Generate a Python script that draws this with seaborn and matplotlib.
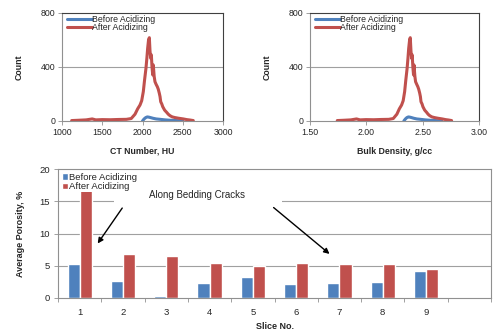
import numpy as np
import pandas as pd
import matplotlib
matplotlib.use("Agg")
import matplotlib.pyplot as plt
from matplotlib.patches import Rectangle
import seaborn as sns

# CT number histogram
ct_red = [1120, 1200, 1300, 1375, 1420, 1500, 1600, 1700, 1800, 1860, 1907, 1940,
          1969, 1990, 2010, 2025, 2043, 2055, 2064, 2075, 2085, 2093, 2102, 2110,
          2118, 2127, 2134, 2145, 2155, 2170, 2184, 2196, 2209, 2218, 2226, 2240,
          2251, 2275, 2300, 2320, 2342, 2370, 2404, 2450, 2507, 2550, 2590, 2631]
dens_red = [1.742, 1.796, 1.863, 1.913, 1.944, 1.997, 2.065, 2.132, 2.199, 2.239,
            2.271, 2.293, 2.313, 2.327, 2.340, 2.350, 2.362, 2.370, 2.376, 2.384,
            2.390, 2.396, 2.402, 2.407, 2.413, 2.419, 2.423, 2.431, 2.437, 2.448,
            2.457, 2.465, 2.474, 2.480, 2.485, 2.495, 2.502, 2.518, 2.535, 2.548,
            2.563, 2.582, 2.605, 2.636, 2.674, 2.703, 2.730, 2.757]
count_red = [3, 5, 8, 15, 8, 10, 9, 11, 12, 18, 50, 90,
             118, 150, 217, 300, 390, 470, 538, 600, 617, 520, 464, 490,
             400, 341, 415, 330, 291, 270, 254, 235, 205, 180, 143, 125,
             106, 80, 64, 50, 39, 30, 25, 20, 15, 10, 7, 3]

ct_blue = [2000, 2020, 2040, 2060, 2080, 2100, 2130, 2170, 2220, 2280, 2350, 2420, 2500]
dens_blue = [2.333, 2.347, 2.360, 2.374, 2.387, 2.401, 2.421, 2.448, 2.481, 2.522,
             2.569, 2.616, 2.669]
count_blue = [0, 15, 25, 30, 28, 25, 20, 15, 12, 8, 5, 3, 0]

# porosity per slice
slices = ["1", "2", "3", "4", "5", "6", "7", "8", "9"]
por_before = [5.3, 2.6, 0.3, 2.3, 3.2, 2.1, 2.3, 2.5, 4.2]
por_after = [16.7, 6.8, 6.5, 5.5, 5.0, 5.4, 5.2, 5.3, 4.5]

BLUE = "#4F81BD"
RED = "#C0504D"

sns.set_style("white")
plt.rcParams["font.family"] = ["Liberation Sans", "DejaVu Sans"]

fig = plt.figure(figsize=(5, 3.36), dpi=100)


def style_hist(ax, xlim, xticks, xlabels, xlabel):
    ax.set_xlim(*xlim)
    ax.set_ylim(0, 800)
    ax.set_xticks(xticks)
    ax.set_xticklabels(xlabels, fontsize=6.3)
    ax.set_yticks([0, 400, 800])
    ax.set_yticklabels(["0", "400", "800"], fontsize=6.3)
    ax.axhline(400, color="#a0a0a0", lw=0.8, zorder=0)
    for s in ["left", "bottom"]:
        ax.spines[s].set_color("#909090")
        ax.spines[s].set_linewidth(0.8)
    for s in ["top", "right"]:
        ax.spines[s].set_color("#404040")
        ax.spines[s].set_linewidth(0.8)
    ax.tick_params(axis="both", direction="out", length=3, width=0.6,
                   color="#909090", pad=2, left=True, bottom=True)
    ax.set_xlabel(xlabel, fontsize=6.3, fontweight="bold", labelpad=7)
    ax.set_ylabel("Count", fontsize=6.3, fontweight="bold", labelpad=12)
    ax.legend(loc="upper left", bbox_to_anchor=(0.0, 1.03), frameon=False,
              fontsize=6.3, handlelength=2.8, handletextpad=0.05,
              labelspacing=-0.1, borderaxespad=0.2)


ax1 = fig.add_axes([0.124, 0.640, 0.322, 0.3214])
sns.lineplot(x=ct_blue, y=count_blue, color=BLUE, lw=2.2, ax=ax1, label="Before Acidizing")
sns.lineplot(x=ct_red, y=count_red, color=RED, lw=2.2, ax=ax1, label="After Acidizing")
style_hist(ax1, (1000, 3000), [1000, 1500, 2000, 2500, 3000],
           ["1000", "1500", "2000", "2500", "3000"], "CT Number, HU")

ax2 = fig.add_axes([0.62, 0.640, 0.338, 0.3214])
sns.lineplot(x=dens_blue, y=count_blue, color=BLUE, lw=2.2, ax=ax2, label="Before Acidizing")
sns.lineplot(x=dens_red, y=count_red, color=RED, lw=2.2, ax=ax2, label="After Acidizing")
style_hist(ax2, (1.5, 3.0), [1.5, 2.0, 2.5, 3.0],
           ["1.50", "2.00", "2.50", "3.00"], "Bulk Density, g/cc")

# bottom bar chart
cats = slices + [""]
df = pd.DataFrame({
    "Slice": slices * 2,
    "Porosity": por_before + por_after,
    "Group": ["Before Acidizing"] * len(slices) + ["After Acidizing"] * len(slices),
})
ax3 = fig.add_axes([0.116, 0.1131, 0.866, 0.3839])
sns.barplot(data=df, x="Slice", y="Porosity", hue="Group", order=cats,
            palette=[BLUE, RED], width=0.56, saturation=1, ax=ax3, zorder=2)
ax3.set_xlim(-0.5, 9.5)
ax3.set_ylim(0, 20)
ax3.set_yticks([0, 5, 10, 15, 20])
ax3.set_yticklabels(["0", "5", "10", "15", "20"], fontsize=6.8)
ax3.set_xticks(range(10))
ax3.set_xticklabels(cats, fontsize=6.8)
ax3.set_xticks(np.arange(-0.5, 10, 1), minor=True)
ax3.tick_params(axis="x", which="major", length=0, pad=7)
ax3.tick_params(axis="x", which="minor", direction="out", length=3, width=0.6,
                color="#909090", bottom=True)
ax3.tick_params(axis="y", direction="out", length=3, width=0.6, color="#909090",
                left=True, pad=3)
for y in [5, 10, 15]:
    ax3.axhline(y, color="#a0a0a0", lw=0.8, zorder=0)
for s in ax3.spines.values():
    s.set_color("#909090")
    s.set_linewidth(0.8)
ax3.set_xlabel("Slice No.", fontsize=6.5, fontweight="bold", labelpad=4)
ax3.set_ylabel("Average Porosity, %", fontsize=6.5, fontweight="bold", labelpad=10)
ax3.legend(loc="upper left", bbox_to_anchor=(0.0, 1.0), frameon=True,
           facecolor="white", edgecolor="none", framealpha=1, fontsize=6.8,
           handlelength=0.65, handleheight=0.65, handletextpad=0.15,
           labelspacing=0.05, borderaxespad=0.3, borderpad=0.1)

# white text box behind the note
ax3.add_patch(Rectangle((0.79, 14.6), 3.88, 3.0, facecolor="white",
                        edgecolor="none", zorder=1))
ax3.text(2.72, 15.95, "Along Bedding Cracks", fontsize=7, ha="center", va="center",
         zorder=3)
ax3.annotate("", xy=(0.38, 8.1), xytext=(1.02, 14.3),
             arrowprops=dict(arrowstyle="-|>", color="black", lw=1.0,
                             mutation_scale=8), zorder=4)
ax3.annotate("", xy=(5.82, 6.56), xytext=(4.43, 14.3),
             arrowprops=dict(arrowstyle="-|>", color="black", lw=1.0,
                             mutation_scale=8), zorder=4)

fig.savefig("out.png", dpi=100)
